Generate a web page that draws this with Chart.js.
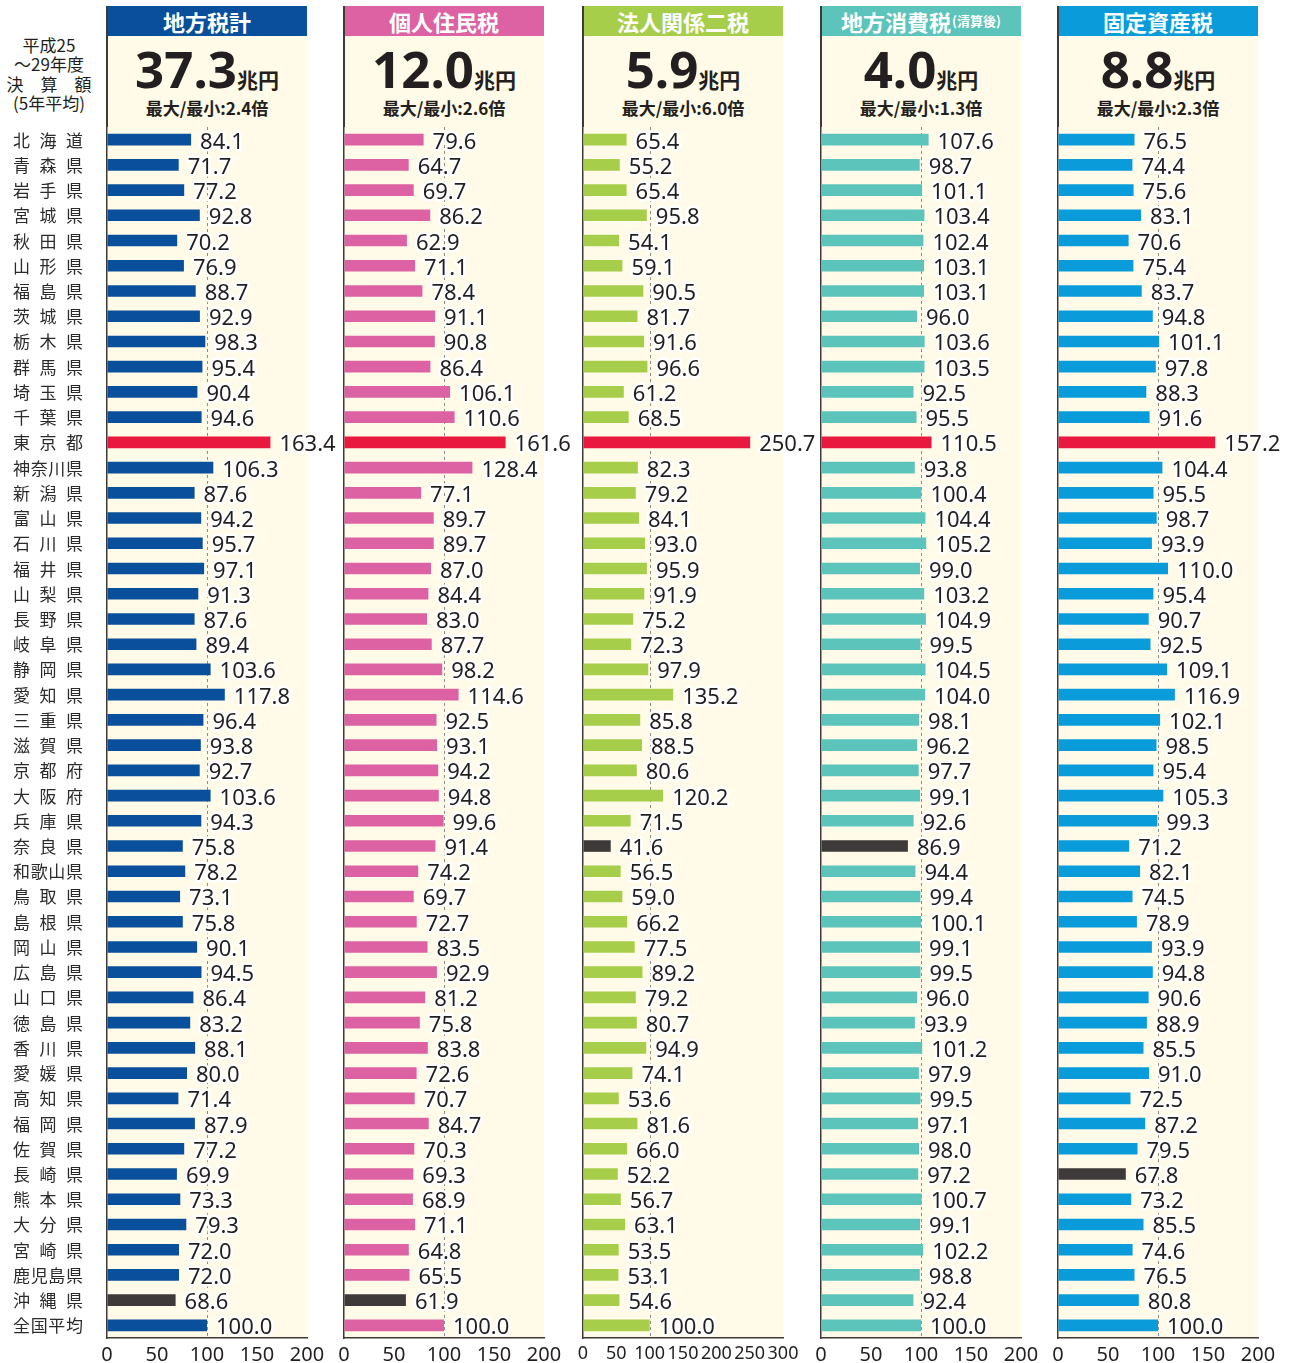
<!DOCTYPE html>
<html lang="ja">
<head>
<meta charset="utf-8">
<script src="https://cdn.jsdelivr.net/npm/chart.js@4.4.1/dist/chart.umd.min.js"></script>
<style>
  html,body{margin:0;padding:0;}
  body{width:1297px;height:1363px;background:#fff;position:relative;overflow:hidden;
       font-family:'Noto Sans CJK JP','Noto Sans',sans-serif;color:#231f20;}
  .abs{position:absolute;}
  .title{display:flex;align-items:center;justify-content:center;color:#fff;font-weight:700;
         font-size:22px;line-height:30px;height:30px;white-space:nowrap;}
  .title small{font-size:13px;font-weight:700;margin-left:1px;}
  .cream{background:#fffbe8;}
  .vline{background:#3e3a39;width:1.5px;}
  .total{text-align:center;white-space:nowrap;line-height:56px;height:56px;}
  .total .num{font-family:'Noto Sans',sans-serif;font-weight:700;font-size:51px;letter-spacing:0px;}
  .total .unit{font-family:'Noto Sans CJK JP',sans-serif;font-weight:700;font-size:21px;}
  .ratio{text-align:center;white-space:nowrap;font-weight:700;font-size:17px;line-height:22px;height:22px;}
  .note{text-align:center;font-size:17px;line-height:19.3px;white-space:nowrap;}
  canvas{position:absolute;top:0;z-index:2;}
</style>
</head>
<body>
<div class="abs note" style="left:0;top:35px;width:98px;">平成25<br>～29年度<br>決　算　額<br>(5年平均)</div>
<script>
// ---------------- DATA ----------------
const prefectures = ['北海道','青森県','岩手県','宮城県','秋田県','山形県','福島県','茨城県','栃木県','群馬県',
  '埼玉県','千葉県','東京都','神奈川県','新潟県','富山県','石川県','福井県','山梨県','長野県',
  '岐阜県','静岡県','愛知県','三重県','滋賀県','京都府','大阪府','兵庫県','奈良県','和歌山県',
  '鳥取県','島根県','岡山県','広島県','山口県','徳島県','香川県','愛媛県','高知県','福岡県',
  '佐賀県','長崎県','熊本県','大分県','宮崎県','鹿児島県','沖縄県','全国平均'];

const chihouzeiKei = [84.1,71.7,77.2,92.8,70.2,76.9,88.7,92.9,98.3,95.4,
  90.4,94.6,163.4,106.3,87.6,94.2,95.7,97.1,91.3,87.6,
  89.4,103.6,117.8,96.4,93.8,92.7,103.6,94.3,75.8,78.2,
  73.1,75.8,90.1,94.5,86.4,83.2,88.1,80.0,71.4,87.9,
  77.2,69.9,73.3,79.3,72.0,72.0,68.6,100.0];

const kojinJuminzei = [79.6,64.7,69.7,86.2,62.9,71.1,78.4,91.1,90.8,86.4,
  106.1,110.6,161.6,128.4,77.1,89.7,89.7,87.0,84.4,83.0,
  87.7,98.2,114.6,92.5,93.1,94.2,94.8,99.6,91.4,74.2,
  69.7,72.7,83.5,92.9,81.2,75.8,83.8,72.6,70.7,84.7,
  70.3,69.3,68.9,71.1,64.8,65.5,61.9,100.0];

const houjinNizei = [65.4,55.2,65.4,95.8,54.1,59.1,90.5,81.7,91.6,96.6,
  61.2,68.5,250.7,82.3,79.2,84.1,93.0,95.9,91.9,75.2,
  72.3,97.9,135.2,85.8,88.5,80.6,120.2,71.5,41.6,56.5,
  59.0,66.2,77.5,89.2,79.2,80.7,94.9,74.1,53.6,81.6,
  66.0,52.2,56.7,63.1,53.5,53.1,54.6,100.0];

const chihouShohizei = [107.6,98.7,101.1,103.4,102.4,103.1,103.1,96.0,103.6,103.5,
  92.5,95.5,110.5,93.8,100.4,104.4,105.2,99.0,103.2,104.9,
  99.5,104.5,104.0,98.1,96.2,97.7,99.1,92.6,86.9,94.4,
  99.4,100.1,99.1,99.5,96.0,93.9,101.2,97.9,99.5,97.1,
  98.0,97.2,100.7,99.1,102.2,98.8,92.4,100.0];

const koteiShisanzei = [76.5,74.4,75.6,83.1,70.6,75.4,83.7,94.8,101.1,97.8,
  88.3,91.6,157.2,104.4,95.5,98.7,93.9,110.0,95.4,90.7,
  92.5,109.1,116.9,102.1,98.5,95.4,105.3,99.3,71.2,82.1,
  74.5,78.9,93.9,94.8,90.6,88.9,85.5,91.0,72.5,87.2,
  79.5,67.8,73.2,85.5,74.6,76.5,80.8,100.0];

const panelTitles = ['地方税計','個人住民税','法人関係二税','地方消費税','固定資産税'];
const panelTitleNotes = ['','','','(清算後)',''];
const panelTotals = ['37.3','12.0','5.9','4.0','8.8'];
const totalUnit = '兆円';
const panelRatios = ['2.4','2.6','6.0','1.3','2.3'];
const axisMax = [200,200,300,200,200];
const axisStep = 50;
const referenceValue = 100;

// ---------------- STYLE / LAYOUT ----------------
const seriesList = [chihouzeiKei,kojinJuminzei,houjinNizei,chihouShohizei,koteiShisanzei];
const panelLefts = [107,344,583,821,1058];
const panelWidth = 200;
const panelColors = ['#0a4f9c','#dc62a3','#a7ce4b','#5cc4bb','#0a9cda'];
const maxColor = '#e9183f';
const minColor = '#3e3a39';
const axisColor = '#3e3a39';
const textColor = '#231f20';
const chartTop = 127;
const canvasH = 1363;
const padR = 39;

const refLinePlugin = {
  id:'refLine',
  beforeDatasetsDraw(chart){
    const {ctx, chartArea, scales:{x}} = chart;
    const px = Math.round(x.getPixelForValue(referenceValue)) + 0.5;
    ctx.save();
    ctx.strokeStyle = '#8c8c8c';
    ctx.lineWidth = 1;
    ctx.setLineDash([3,3]);
    ctx.beginPath();
    ctx.moveTo(px, chartArea.top);
    ctx.lineTo(px, chartArea.bottom);
    ctx.stroke();
    ctx.restore();
  }
};

const valueLabelPlugin = {
  id:'valueLabels',
  afterDatasetsDraw(chart){
    const {ctx} = chart;
    const ds = chart.data.datasets[0];
    const meta = chart.getDatasetMeta(0);
    ctx.save();
    ctx.font = '22px "Noto Sans", sans-serif';
    ctx.textAlign = 'left';
    ctx.textBaseline = 'alphabetic';
    ctx.lineJoin = 'round';
    meta.data.forEach((bar,i)=>{
      const t = Number(ds.data[i]).toFixed(1);
      const x = bar.x + 9, y = bar.y + 9;
      ctx.strokeStyle = '#ffffff';
      ctx.lineWidth = 5;
      ctx.strokeText(t, x, y);
      ctx.fillStyle = textColor;
      ctx.fillText(t, x, y);
    });
    ctx.restore();
  }
};

const categoryLabelPlugin = {
  id:'catLabels',
  afterDraw(chart){
    const {ctx} = chart;
    const yScale = chart.scales.y;
    const fs = 17, x0 = 13, W = 70;
    ctx.save();
    ctx.font = fs + 'px "Noto Sans CJK JP", sans-serif';
    ctx.fillStyle = '#2b2b2b';
    ctx.textAlign = 'left';
    ctx.textBaseline = 'alphabetic';
    chart.data.labels.forEach((name,i)=>{
      const py = yScale.getPixelForValue(i) + 7;
      const chars = Array.from(name);
      const step = chars.length > 1 ? (W - fs) / (chars.length - 1) : 0;
      chars.forEach((c,k)=> ctx.fillText(c, x0 + k*step, py));
    });
    ctx.restore();
  }
};

seriesList.forEach((values, p)=>{
  const L = panelLefts[p];
  const t = document.createElement('div');
  t.className = 'abs title';
  t.style.cssText = `left:${L}px;top:6px;width:${panelWidth}px;background:${panelColors[p]};`;
  t.innerHTML = panelTitles[p] + (panelTitleNotes[p] ? `<small>${panelTitleNotes[p]}</small>` : '');
  document.body.appendChild(t);
  const c = document.createElement('div');
  c.className = 'abs cream';
  c.style.cssText = `left:${L}px;top:36px;width:${panelWidth}px;height:${1338-36}px;`;
  document.body.appendChild(c);
  const v = document.createElement('div');
  v.className = 'abs vline';
  v.style.cssText = `left:${L-0.75}px;top:6px;height:${chartTop-6}px;z-index:3;`;
  document.body.appendChild(v);
  const tot = document.createElement('div');
  tot.className = 'abs total';
  tot.style.cssText = `left:${L}px;top:40px;width:${panelWidth}px;`;
  tot.innerHTML = `<span class="num">${panelTotals[p]}</span><span class="unit">${totalUnit}</span>`;
  document.body.appendChild(tot);
  const r = document.createElement('div');
  r.className = 'abs ratio';
  r.style.cssText = `left:${L}px;top:97px;width:${panelWidth}px;`;
  r.textContent = `最大/最小:${panelRatios[p]}倍`;
  document.body.appendChild(r);

  const padL = p === 0 ? L : 20;
  const cv = document.createElement('canvas');
  const cw = padL + panelWidth + padR;
  cv.width = cw; cv.height = canvasH;
  cv.style.left = (L - padL) + 'px';
  cv.style.width = cw + 'px'; cv.style.height = canvasH + 'px';
  document.body.appendChild(cv);

  const first = values.slice(0, values.length - 1);
  const maxIdx = first.indexOf(Math.max(...first));
  const minIdx = first.indexOf(Math.min(...first));
  const colors = values.map((_,i)=> i===maxIdx ? maxColor : (i===minIdx ? minColor : panelColors[p]));

  const plugins = [refLinePlugin, valueLabelPlugin];
  if (p === 0) plugins.push(categoryLabelPlugin);

  const tickSize = axisMax[p] > 200 ? 18 : 20;

  new Chart(cv, {
    type:'bar',
    data:{ labels: prefectures, datasets:[{ data: values, backgroundColor: colors, borderWidth:0,
            barPercentage:0.46, categoryPercentage:1 }]},
    options:{
      indexAxis:'y', responsive:false, animation:false, devicePixelRatio:1,
      layout:{ padding:{ left:padL, right:padR, top:chartTop, bottom:0 } },
      plugins:{ legend:{display:false}, tooltip:{enabled:false} },
      scales:{
        x:{ type:'linear', position:'bottom', min:0, max:axisMax[p],
            ticks:{ stepSize:axisStep, autoSkip:false, maxRotation:0, minRotation:0, padding:5,
                    color:textColor, font:{ family:'"Noto Sans", sans-serif', size:tickSize } },
            grid:{ drawOnChartArea:false, drawTicks:false },
            border:{ display:true, color:axisColor, width:1.5 },
            afterFit(s){ s.height = 25; } },
        y:{ type:'category', ticks:{ display:false },
            grid:{ drawOnChartArea:false, drawTicks:false },
            border:{ display:true, color:axisColor, width:1.5 },
            afterFit(s){ s.width = 0; } }
      }
    },
    plugins
  });
});
</script>
</body>
</html>
